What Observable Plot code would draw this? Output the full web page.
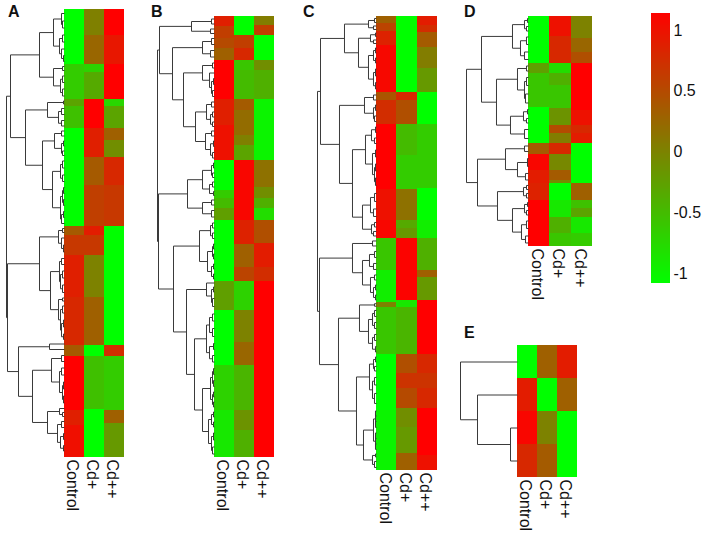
<!DOCTYPE html>
<html>
<head>
<meta charset="utf-8">
<script src="https://cdn.jsdelivr.net/npm/d3@7"></script>
<script src="https://cdn.jsdelivr.net/npm/@observablehq/plot@0.6"></script>
<style>
html,body{margin:0;padding:0;background:#fff}
#stage{position:relative;width:708px;height:536px;overflow:hidden;font-family:"Liberation Sans",Arial,sans-serif}
#stage svg{position:absolute;overflow:visible;background:transparent}
.tag{position:absolute;font-weight:bold;font-size:16px;line-height:16px;color:#111}
</style>
</head>
<body>
<div id="stage"></div>
<script>
const conditions = ["Control", "Cd+", "Cd++"];
const legendTicks = [-1, -0.5, 0, 0.5, 1];

// Each column: [row span, expression value]
const A_control = [[55,-1.1],[35,-.65],[7,-.3],[22,-.55],[98,-1.1],[9,.36],[20,.66],[42,.88],[48,.8],[11,.36],[54,1.15],[15,.88],[32,1.02]];
const A_cdp = [[26,.02],[29,.25],[8,-.7],[27,-.35],[29,1.15],[29,.88],[28,.36],[41,.59],[9,.9],[20,.66],[42,0],[48,.3],[11,-1.1],[53,-.54],[48,-1.1]];
const A_cdpp = [[26,1.15],[29,.95],[35,1.15],[7,-.75],[22,-.3],[12,.3],[17,-.1],[28,.8],[41,.66],[119,-1.1],[11,.75],[54,-.65],[13,.3],[34,-.2]];

const B_control = [[10,.88],[12,.6],[10,.5],[12,.3],[39,1.15],[26,.88],[35,1.0],[30,-1.1],[8,-.65],[10,-.5],[12,-.25],[61,-1.1],[29,-.25],[55,-1.1],[45,-.7],[47,-.9]];
const B_cdp = [[19,-1.1],[13,.6],[12,.8],[10,-.6],[29,-.5],[11,.35],[25,.2],[10,.02],[15,-.3],[60,1.1],[24,.85],[23,.3],[14,.55],[29,-.7],[32,0],[23,.25],[45,-.45],[20,-.15],[27,-.4]];
const B_cdpp = [[9,.05],[10,.6],[25,-1.1],[10,-.1],[29,-.4],[61,-1.0],[27,.15],[11,-.1],[10,-.4],[12,-.8],[23,.45],[24,.9],[14,.75],[176,1.15]];

const C_control = [[7,.3],[8,.55],[14,.85],[47,1.08],[8,.4],[24,.75],[65,1.15],[31,1.0],[18,1.1],[32,-.6],[32,-.95],[5,0],[47,-.6],[56,-1.1],[60,-1.0]];
const C_cdp = [[76,-1.1],[8,.8],[24,.45],[31,-.5],[34,-.65],[31,.15],[8,-.35],[10,-.2],[62,1.12],[7,-.9],[47,-.45],[19,.45],[15,.7],[20,.5],[19,-.1],[26,-.2],[17,.3]];
const C_cdpp = [[9,.9],[7,.75],[15,.35],[21,.05],[24,-.2],[32,-1.1],[64,-.65],[32,-1.1],[18,-.95],[32,-.4],[7,.3],[23,-.2],[54,1.15],[19,.8],[15,.7],[20,.8],[47,1.15],[15,1.0]];

const D_control = [[47,-1.1],[10,-.25],[34,-.6],[36,-1.1],[11,.35],[16,1.1],[13,.9],[17,.85],[46,1.15]];
const D_cdp = [[20,1.0],[27,.8],[10,-.8],[12,-.4],[23,-.6],[17,-.15],[8,.5],[10,.05],[11,.8],[16,-.05],[10,.35],[3,-.05],[17,-1.1],[17,-.9],[16,-.4],[13,-.6]];
const D_cdpp = [[22,0],[14,.25],[11,.45],[47,1.15],[15,1.0],[8,.8],[10,.9],[40,-1.1],[17,.3],[8,-.55],[9,-.3],[16,-.9],[13,-.65]];

const E_control = [[33,-1.1],[33,.9],[33,1.1],[33,.8]];
const E_cdp = [[33,.3],[33,-1.1],[33,0],[33,.35]];
const E_cdpp = [[33,.9],[33,.3],[66,-1.1]];

// Dendrograms: [merge height, left child, right child]; a number is a leaf's row span
const A_tree = [58,
  [54,
    [25,
      [11, [3,8,[2,7,7]], [5,[2,7,7],[3,7,[1,6,6]]]],
      [11, [2,4,4], [4,[2,7,6],[2,7,7]]]],
    [39,
      [17, [1,3,3], [6,[3,6,6],[3,6,5]]],
      [22,
        [10, [3,5,5], [3,[1,5,5],[2,5,4]]],
        [12, [4,[2,7,7],[2,7,6]], [4,[2,[1,6,6],[1,6,6]],[3,[1,6,6],6]]]]]],
  [57,
    [25,
      [6, [2,4,4], [3,7,[1,7,7]]],
      [14,
        [5, [3,6,6], [4,[2,7,7],[2,7,8]]],
        [6, [2,3,3], [4,[2,7,7],[3,[1,7,7],[1,7,4]]]]]],
    [46,
      [15,5,6],
      [32,
        [13, [3,6,6], [5,[3,7,7],[2,[1,7,7],[1,7,7]]]],
        [17, [5,4,[2,4,4]], [7,[3,6,6],[4,[1,6,6],[1,6,5]]]]]]]];

const B_tree = [57,
  [55,
    [23, [3,5,5], [4,5,4]],
    [42,
      [12, [3,6,6], [4,6,7]],
      [31,
        [12, [2,5,5], [5,5,[3,[1,6,6],[2,6,6]]]],
        [19,
          [8, [3,5,5], [4,[2,5,5],[2,5,4]]],
          [9, [3,5,5], [4,[1,5,6],[2,6,5]]]]]]],
  [56,
    [27,
      [12, [3,[1,5,5],[2,5,4]], [5,[2,5,5],[1,4,4]]],
      [12, [3,5,5], [3,6,7]]],
    [41,
      [15,
        [4, [2,5,5], [2,5,6]],
        [7, [2,[1,5,5],[1,5,5]], [3,[1,5,5],[1,5,5]]]],
      [28,
        [8, 3, [3,[1,5,5],[2,8,8]]],
        [20,
          [8, [5,[2,7,7],[2,8,8]], [5,[1,6,6],[2,6,7]]],
          [12,
            [4, [2,[1,6,6],[1,6,6]], [2,[1,5,5],[1,5,5]]],
            [6, [3,[1,5,5],[1,5,5]], [3,[1,7,7],[2,7,7]]]]]]]]];

const C_tree = [59,
  [56,
    [32,
      [8, [2,4,4], [3,3,4]],
      [18,
        [6, [1,3,4], [3,3,4]],
        [8, [3,[1,5,5],[1,5,5]], [3,[1,7,7],[1,6,7]]]]],
    [37,
      [12, [3,5,5], [3,[1,5,6],[2,5,6]]],
      [24,
        [11, [5,[1,5,6],[2,5,6]], [4,[1,7,7],[2,[1,7,7],[1,7,8]]]],
        [14, [6,[2,8,8],[3,7,8]], [5,[2,4,5],[3,4,5]]]]]],
  [57,
    [24,
      [4,5,5],
      [14,
        [7, [2,6,6], [3,6,6]],
        [6, [2,5,5], [3,[1,5,5],[1,5,5]]]]],
    [38,
      [17,
        [2,2.5,2.5],
        [8, [4,[2,6,6],[2,6,6]], [4,[2,6,6],[1,6,5]]]],
      [20,
        [7, [3,[1,5,5],[2,4,5]], [4,[2,8,7],[2,10,10]]],
        [13,
          [3, [1,[1,5,5],[1,6,6]], [1,[1,5,6],[1,5,6]]],
          [4, [1,3,3], [2,6,6]]]]]]];

const D_tree = [62,
  [47,
    [16,
      [4, [1,4,4], [2,4,5]],
      [8, [2,7,8], [4,7,8]]],
    [32,
      [11, [2,5,5], [4,[2,8,8],[3,9,9]]],
      [18, [5,[1,4,5],[2,4,5]], [4,8,10]]]],
  [51,
    [23,
      [4,5,6],
      [11, [1,8,8], [3,6,7]]],
    [31,
      [5, [2,4,4], [2,4,5]],
      [16, [4,[1,4,4],[2,4,5]], [7,[2,7,8],[3,7,7]]]]]];

const E_tree = [57, 33, [40, 33, [7, 33, 33]]];

const colorScale = {
  type: "linear",
  domain: [-1.1, 1.15],
  range: ["#00ff00", "#ff0000"],
  clamp: true
};

function flattenColumns(columns, colWidth) {
  const cells = [];
  columns.forEach((col, i) => {
    let at = 0;
    for (const [span, value] of col) {
      cells.push({x1: i * colWidth, x2: (i + 1) * colWidth, y1: at, y2: at + span, value});
      at += span;
    }
  });
  return cells;
}

function flattenTree(tree) {
  const segs = [];
  let at = 0;
  function walk(n) {
    if (typeof n === "number") {
      const y = at + n / 2;
      at += n;
      return {h: 0, y};
    }
    const [h, l, r] = n;
    const a = walk(l), b = walk(r);
    segs.push({x1: -h, y1: a.y, x2: -h, y2: b.y});
    segs.push({x1: -h, y1: a.y, x2: -a.h, y2: a.y});
    segs.push({x1: -h, y1: b.y, x2: -b.h, y2: b.y});
    return {h, y: (a.y + b.y) / 2};
  }
  walk(tree);
  return segs;
}

const stage = document.getElementById("stage");

const layout = [
  {tag: "A", tree: A_tree, cols: [A_control, A_cdp, A_cdpp], left: 64, top: 9, colW: 20, tagX: 8, tagY: 4},
  {tag: "B", tree: B_tree, cols: [B_control, B_cdp, B_cdpp], left: 214, top: 16, colW: 20, tagX: 151, tagY: 4},
  {tag: "C", tree: C_tree, cols: [C_control, C_cdp, C_cdpp], left: 376, top: 16, colW: 20.3, tagX: 303, tagY: 4},
  {tag: "D", tree: D_tree, cols: [D_control, D_cdp, D_cdpp], left: 528, top: 16, colW: 21.3, tagX: 464, tagY: 4},
  {tag: "E", tree: E_tree, cols: [E_control, E_cdp, E_cdpp], left: 517, top: 345, colW: 20, tagX: 464, tagY: 325}
];

for (const p of layout) {
  const treeW = p.tree[0] + 2;
  const heatW = p.colW * 3;
  const total = d3.sum(p.cols[0], d => d[0]);
  const pad = 2;
  const bottom = 70;
  const svg = Plot.plot({
    width: treeW + heatW + 2,
    height: total + pad + bottom,
    marginLeft: 0, marginRight: 2, marginTop: pad, marginBottom: bottom,
    x: {domain: [-treeW, heatW], axis: null},
    y: {domain: [0, total], reverse: true, axis: null},
    color: colorScale,
    style: {background: "transparent", fontFamily: '"Liberation Sans",Arial,sans-serif'},
    marks: [
      Plot.rect(flattenColumns(p.cols, p.colW), {x1: "x1", x2: "x2", y1: "y1", y2: "y2", fill: "value", inset: 0, shapeRendering: "crispEdges"}),
      Plot.link(flattenTree(p.tree), {x1: "x1", y1: "y1", x2: "x2", y2: "y2", stroke: "#3a3a3a", strokeWidth: 1}),
      Plot.axisX(conditions.map((_, i) => (i + 0.5) * p.colW), {
        anchor: "bottom",
        tickSize: 0,
        tickPadding: 2,
        tickRotate: 90,
        fontSize: 16,
        fill: "#111",
        tickFormat: d => conditions[Math.round(d / p.colW - 0.5)],
        label: null,
        dx: -2
      })
    ]
  });
  svg.style.left = (p.left - treeW) + "px";
  svg.style.top = (p.top - pad) + "px";
  stage.appendChild(svg);
  const t = document.createElement("div");
  t.className = "tag";
  t.textContent = p.tag;
  t.style.left = p.tagX + "px";
  t.style.top = p.tagY + "px";
  stage.appendChild(t);
}

// Colour key
const keyTop = 13, keyHeight = 270;
const keySteps = d3.range(-1.08, 1.14, 0.01);
const key = Plot.plot({
  width: 50,
  height: keyHeight,
  marginLeft: 0, marginRight: 31, marginTop: 0, marginBottom: 0,
  x: {domain: [0, 1], axis: null},
  y: {domain: [-1.08, 1.14]},
  color: colorScale,
  style: {background: "transparent", fontFamily: '"Liberation Sans",Arial,sans-serif'},
  marks: [
    Plot.rect(keySteps, {x1: 0, x2: 1, y1: d => d, y2: d => d + 0.0105, fill: d => d, shapeRendering: "crispEdges"}),
    Plot.axisY(legendTicks, {
      anchor: "right",
      tickSize: 0,
      tickPadding: 3,
      fontSize: 16,
      fill: "#111",
      textAnchor: "start",
      tickFormat: d => String(d),
      label: null
    })
  ]
});
key.style.left = "651px";
key.style.top = keyTop + "px";
stage.appendChild(key);
</script>
</body>
</html>
